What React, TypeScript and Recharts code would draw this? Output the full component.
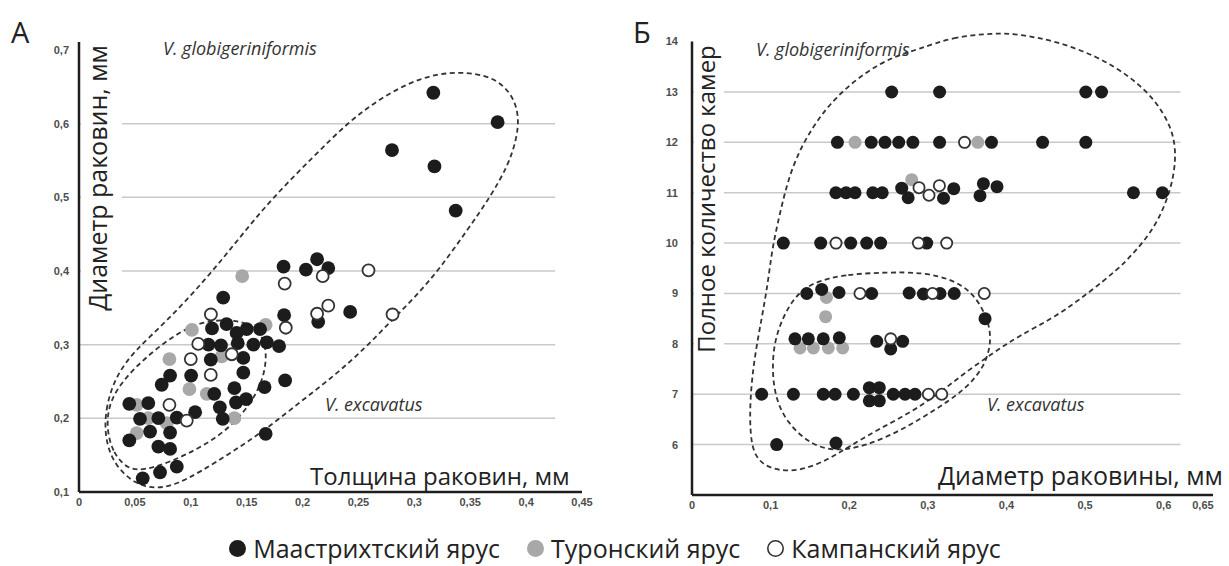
import React from 'react';
import { ScatterChart, Scatter, XAxis, YAxis, ReferenceLine } from 'recharts';

// ---------- Panel A: thickness (x) vs diameter (y) ----------
const xTicksA = [0, 0.05, 0.1, 0.15, 0.2, 0.25, 0.3, 0.35, 0.4, 0.45];
const yTicksA = [0.1, 0.2, 0.3, 0.4, 0.5, 0.6, 0.7];
const gridA = [0.2, 0.3, 0.4, 0.5, 0.6];

const maastrichtA = [
  { x: 0.317, y: 0.642 }, { x: 0.3745, y: 0.602 }, { x: 0.28, y: 0.564 }, { x: 0.318, y: 0.542 },
  { x: 0.337, y: 0.482 }, { x: 0.183, y: 0.406 }, { x: 0.203, y: 0.402 }, { x: 0.213, y: 0.416 },
  { x: 0.223, y: 0.404 }, { x: 0.1835, y: 0.34 }, { x: 0.214, y: 0.331 }, { x: 0.2426, y: 0.3445 },
  { x: 0.129, y: 0.364 }, { x: 0.119, y: 0.322 }, { x: 0.132, y: 0.328 }, { x: 0.141, y: 0.316 },
  { x: 0.15, y: 0.321 }, { x: 0.162, y: 0.321 }, { x: 0.1158, y: 0.3 }, { x: 0.127, y: 0.299 },
  { x: 0.142, y: 0.302 }, { x: 0.156, y: 0.3 }, { x: 0.168, y: 0.303 }, { x: 0.179, y: 0.298 },
  { x: 0.1179, y: 0.2796 }, { x: 0.147, y: 0.282 }, { x: 0.074, y: 0.2456 }, { x: 0.0815, y: 0.258 },
  { x: 0.1003, y: 0.258 }, { x: 0.147, y: 0.262 }, { x: 0.139, y: 0.241 }, { x: 0.166, y: 0.2425 },
  { x: 0.121, y: 0.2333 }, { x: 0.1405, y: 0.2215 }, { x: 0.1495, y: 0.226 }, { x: 0.1844, y: 0.2515 },
  { x: 0.045, y: 0.2197 }, { x: 0.062, y: 0.2207 }, { x: 0.1039, y: 0.2084 }, { x: 0.126, y: 0.215 },
  { x: 0.0875, y: 0.201 }, { x: 0.1286, y: 0.1993 }, { x: 0.0546, y: 0.1993 }, { x: 0.071, y: 0.2003 },
  { x: 0.0636, y: 0.182 }, { x: 0.0815, y: 0.1807 }, { x: 0.045, y: 0.17 }, { x: 0.071, y: 0.1616 },
  { x: 0.0815, y: 0.1585 }, { x: 0.167, y: 0.179 }, { x: 0.057, y: 0.1186 }, { x: 0.0725, y: 0.1268 },
  { x: 0.0875, y: 0.1344 },
];
const turonA = [
  { x: 0.146, y: 0.393 }, { x: 0.101, y: 0.32 }, { x: 0.167, y: 0.327 }, { x: 0.0809, y: 0.2805 },
  { x: 0.1277, y: 0.284 }, { x: 0.0988, y: 0.2397 }, { x: 0.1143, y: 0.2333 }, { x: 0.0516, y: 0.2184 },
  { x: 0.139, y: 0.2003 }, { x: 0.062, y: 0.2003 }, { x: 0.0785, y: 0.1935 }, { x: 0.0516, y: 0.18 },
];
const campanA = [
  { x: 0.218, y: 0.393 }, { x: 0.259, y: 0.401 }, { x: 0.184, y: 0.383 }, { x: 0.185, y: 0.323 },
  { x: 0.213, y: 0.342 }, { x: 0.223, y: 0.353 }, { x: 0.2805, y: 0.341 }, { x: 0.118, y: 0.341 },
  { x: 0.1067, y: 0.301 }, { x: 0.1367, y: 0.287 }, { x: 0.1, y: 0.2805 }, { x: 0.1179, y: 0.259 },
  { x: 0.0809, y: 0.2184 }, { x: 0.0964, y: 0.197 },
];
// dashed outlines (V. globigeriniformis outer, V. excavatus inner)
const outlineGlobA = [
  { x: 0.0233, y: 0.1706 }, { x: 0.0233, y: 0.2113 }, { x: 0.0322, y: 0.2561 }, { x: 0.0501, y: 0.2928 },
  { x: 0.077, y: 0.3294 }, { x: 0.1146, y: 0.3905 }, { x: 0.1441, y: 0.4461 }, { x: 0.1737, y: 0.5004 },
  { x: 0.2095, y: 0.5547 }, { x: 0.2399, y: 0.6009 }, { x: 0.2695, y: 0.6348 }, { x: 0.3053, y: 0.6633 },
  { x: 0.3384, y: 0.6715 }, { x: 0.3706, y: 0.6647 }, { x: 0.3885, y: 0.6389 }, { x: 0.3939, y: 0.6077 },
  { x: 0.3912, y: 0.5778 }, { x: 0.3841, y: 0.5439 }, { x: 0.3679, y: 0.5004 }, { x: 0.3474, y: 0.4556 },
  { x: 0.3232, y: 0.4041 }, { x: 0.3008, y: 0.3647 }, { x: 0.2784, y: 0.3308 }, { x: 0.256, y: 0.2955 },
  { x: 0.2292, y: 0.2588 }, { x: 0.1979, y: 0.2222 }, { x: 0.1665, y: 0.1842 }, { x: 0.137, y: 0.1543 },
  { x: 0.1083, y: 0.1271 }, { x: 0.0859, y: 0.1095 }, { x: 0.068, y: 0.1041 }, { x: 0.0501, y: 0.1109 },
  { x: 0.0322, y: 0.1353 },
];
const outlineExcA = [
  { x: 0.0439, y: 0.1299 }, { x: 0.0295, y: 0.1543 }, { x: 0.0242, y: 0.1909 }, { x: 0.0278, y: 0.2249 },
  { x: 0.0412, y: 0.2547 }, { x: 0.0591, y: 0.2819 }, { x: 0.0815, y: 0.309 }, { x: 0.1065, y: 0.3308 },
  { x: 0.1352, y: 0.3348 }, { x: 0.1576, y: 0.3267 }, { x: 0.1683, y: 0.2995 }, { x: 0.1665, y: 0.2588 },
  { x: 0.1549, y: 0.2222 }, { x: 0.1352, y: 0.1869 }, { x: 0.1083, y: 0.1597 }, { x: 0.0815, y: 0.1407 },
  { x: 0.0591, y: 0.1299 },
];

// ---------- Panel Б: diameter (x) vs number of chambers (y) ----------
const xTicksB = [0, 0.1, 0.2, 0.3, 0.4, 0.5, 0.6, 0.65];
const yTicksB = [6, 7, 8, 9, 10, 11, 12, 13, 14];
const gridB = [6, 7, 8, 9, 10, 11, 12, 13];

const maastrichtB = [
  { x: 0.254, y: 13 }, { x: 0.315, y: 13 }, { x: 0.501, y: 13 }, { x: 0.521, y: 13 },
  { x: 0.185, y: 12 }, { x: 0.228, y: 12 }, { x: 0.2455, y: 12 }, { x: 0.263, y: 12 }, { x: 0.281, y: 12 },
  { x: 0.315, y: 12 }, { x: 0.381, y: 12 }, { x: 0.446, y: 12 }, { x: 0.501, y: 12 },
  { x: 0.183, y: 11 }, { x: 0.196, y: 11 }, { x: 0.2074, y: 11 }, { x: 0.23, y: 11 }, { x: 0.242, y: 11 },
  { x: 0.2668, y: 11.09 }, { x: 0.275, y: 10.9 }, { x: 0.32, y: 10.89 }, { x: 0.333, y: 11.08 },
  { x: 0.3707, y: 11.18 }, { x: 0.3664, y: 10.94 }, { x: 0.388, y: 11.12 }, { x: 0.5616, y: 11 }, { x: 0.5984, y: 11 },
  { x: 0.1162, y: 10 }, { x: 0.1637, y: 10 }, { x: 0.2019, y: 10 }, { x: 0.2222, y: 10 }, { x: 0.24, y: 10 },
  { x: 0.2986, y: 10 },
  { x: 0.146, y: 9 }, { x: 0.165, y: 9.08 }, { x: 0.187, y: 9.02 }, { x: 0.2286, y: 9 }, { x: 0.2763, y: 9.01 },
  { x: 0.2943, y: 8.99 }, { x: 0.3155, y: 9 }, { x: 0.3336, y: 9 }, { x: 0.3728, y: 8.5 },
  { x: 0.131, y: 8.1 }, { x: 0.148, y: 8.1 }, { x: 0.167, y: 8.1 }, { x: 0.1874, y: 8.12 }, { x: 0.235, y: 8.05 },
  { x: 0.2528, y: 7.9 }, { x: 0.268, y: 8.05 },
  { x: 0.0886, y: 7 }, { x: 0.129, y: 7 }, { x: 0.167, y: 7 }, { x: 0.182, y: 7 }, { x: 0.2053, y: 7 },
  { x: 0.2256, y: 7.13 }, { x: 0.2383, y: 7.13 }, { x: 0.2256, y: 6.87 }, { x: 0.2383, y: 6.87 },
  { x: 0.256, y: 7 }, { x: 0.271, y: 7 }, { x: 0.2837, y: 7 },
  { x: 0.1077, y: 6 }, { x: 0.1832, y: 6.03 },
];
const turonB = [
  { x: 0.2074, y: 12 }, { x: 0.3636, y: 12 }, { x: 0.2795, y: 11.26 }, { x: 0.171, y: 8.92 },
  { x: 0.17, y: 8.54 }, { x: 0.1374, y: 7.92 }, { x: 0.1544, y: 7.92 }, { x: 0.1734, y: 7.92 }, { x: 0.1917, y: 7.92 },
];
const campanB = [
  { x: 0.3467, y: 12 }, { x: 0.2888, y: 11.1 }, { x: 0.3015, y: 10.95 }, { x: 0.3147, y: 11.14 },
  { x: 0.1832, y: 10 }, { x: 0.288, y: 10 }, { x: 0.324, y: 10 }, { x: 0.2137, y: 9 }, { x: 0.306, y: 9 },
  { x: 0.3718, y: 9 }, { x: 0.2528, y: 8.1 }, { x: 0.3007, y: 7 }, { x: 0.3177, y: 7 },
];
const outlineGlobB = [
  { x: 0.2888, y: 13.85 }, { x: 0.3308, y: 14.09 }, { x: 0.3842, y: 14.17 }, { x: 0.4148, y: 14.15 },
  { x: 0.4631, y: 14.01 }, { x: 0.5153, y: 13.71 }, { x: 0.5573, y: 13.31 }, { x: 0.5891, y: 12.85 },
  { x: 0.6094, y: 12.32 }, { x: 0.6158, y: 11.86 }, { x: 0.6132, y: 11.32 }, { x: 0.6018, y: 10.73 },
  { x: 0.584, y: 10.21 }, { x: 0.5623, y: 9.81 }, { x: 0.542, y: 9.48 }, { x: 0.5051, y: 9.02 },
  { x: 0.4631, y: 8.54 }, { x: 0.4148, y: 8.15 }, { x: 0.3842, y: 7.83 }, { x: 0.3473, y: 7.43 },
  { x: 0.3155, y: 7.03 }, { x: 0.2786, y: 6.64 }, { x: 0.2366, y: 6.3 }, { x: 0.1997, y: 5.96 },
  { x: 0.173, y: 5.7 }, { x: 0.1361, y: 5.46 }, { x: 0.0992, y: 5.5 }, { x: 0.0789, y: 5.76 },
  { x: 0.0738, y: 6.24 }, { x: 0.0738, y: 6.89 }, { x: 0.0789, y: 7.69 }, { x: 0.0891, y: 8.54 },
  { x: 0.0967, y: 9.22 }, { x: 0.1018, y: 9.87 }, { x: 0.1107, y: 10.52 }, { x: 0.126, y: 11.51 },
  { x: 0.1527, y: 12.31 }, { x: 0.1832, y: 12.91 }, { x: 0.2201, y: 13.39 }, { x: 0.257, y: 13.71 },
];
const outlineExcB = [
  { x: 0.2468, y: 9.42 }, { x: 0.1947, y: 9.38 }, { x: 0.1527, y: 9.22 }, { x: 0.131, y: 8.94 },
  { x: 0.1158, y: 8.54 }, { x: 0.1043, y: 8.03 }, { x: 0.1018, y: 7.43 }, { x: 0.1069, y: 6.89 },
  { x: 0.1209, y: 6.44 }, { x: 0.1476, y: 6.04 }, { x: 0.1781, y: 5.86 }, { x: 0.2201, y: 5.96 },
  { x: 0.2684, y: 6.3 }, { x: 0.3104, y: 6.7 }, { x: 0.3473, y: 7.09 }, { x: 0.3728, y: 7.55 },
  { x: 0.3817, y: 8.09 }, { x: 0.3753, y: 8.54 }, { x: 0.3575, y: 9.02 }, { x: 0.3308, y: 9.28 },
  { x: 0.2939, y: 9.42 },
];

const legendItems = ['Маастрихтский ярус', 'Туронский ярус', 'Кампанский ярус'];

// ---------- styles ----------
const BLACK = '#1c1c1c';
const GRAY = '#a8a8a8';
const GRID = '#c9c9c9';
const AXIS = '#1e1e1e';
const FONT = '"Open Sans", "Noto Sans", sans-serif';

const fmt = (v: number) => String(v).replace('.', ',');
const tickStyle = { fontSize: 11, fill: '#4d4d4d', fontWeight: 700, fontFamily: '"Liberation Sans", Arial, sans-serif' };
const dashLine = { stroke: '#333', strokeWidth: 1.8, strokeDasharray: '5 3.5' };

const Empty = () => <g />;
const makeDot = (kind: string, r: number) => (p: any) => {
  if (p.cx == null || p.cy == null) return <g />;
  if (kind === 'open') return <circle cx={p.cx} cy={p.cy} r={r - 0.9} fill="#fff" stroke="#333" strokeWidth={1.8} />;
  return <circle cx={p.cx} cy={p.cy} r={r} fill={kind === 'gray' ? GRAY : BLACK} />;
};

function PanelA() {
  return (
    <ScatterChart width={600} height={520} margin={{ top: 42, right: 18, bottom: 8, left: 0 }}>
      <XAxis type="number" dataKey="x" domain={[0, 0.45]} ticks={xTicksA} allowDataOverflow
        tickFormatter={fmt} tick={tickStyle} tickLine={false} tickSize={0} tickMargin={6} height={20}
        axisLine={{ stroke: AXIS, strokeWidth: 2.5 }} interval={0} />
      <YAxis type="number" dataKey="y" domain={[0.1, 0.7109]} ticks={yTicksA} allowDataOverflow
        tickFormatter={fmt} tick={tickStyle} tickLine={false} tickSize={0} tickMargin={10} width={79}
        axisLine={{ stroke: AXIS, strokeWidth: 2.5 }} interval={0} />
      {gridA.map((g) => (
        <ReferenceLine key={g} segment={[{ x: 0, y: g }, { x: 0.426, y: g }]} stroke={GRID} strokeWidth={1.5} />
      ))}
      <Scatter data={outlineGlobA} shape={Empty} line={dashLine} lineJointType="basisClosed" isAnimationActive={false} />
      <Scatter data={outlineExcA} shape={Empty} line={dashLine} lineJointType="basisClosed" isAnimationActive={false} />
      <Scatter data={turonA} shape={makeDot('gray', 6.9)} isAnimationActive={false} />
      <Scatter data={maastrichtA} shape={makeDot('black', 6.9)} isAnimationActive={false} />
      <Scatter data={campanA} shape={makeDot('open', 6.9)} isAnimationActive={false} />
    </ScatterChart>
  );
}

function PanelB() {
  return (
    <ScatterChart width={629} height={520} margin={{ top: 29, right: 16, bottom: 5, left: 0 }}>
      <XAxis type="number" dataKey="x" domain={[0, 0.6628]} ticks={xTicksB} allowDataOverflow
        tickFormatter={fmt} tick={tickStyle} tickLine={false} tickSize={0} tickMargin={6} height={20}
        axisLine={{ stroke: AXIS, strokeWidth: 2.5 }} interval={0} />
      <YAxis type="number" dataKey="y" domain={[5, 14.25]} ticks={yTicksB} allowDataOverflow
        tickFormatter={fmt} tick={tickStyle} tickLine={false} tickSize={0} tickMargin={14} width={92}
        axisLine={false} interval={0} />
      {gridB.map((g) => (
        <ReferenceLine key={g} segment={[{ x: 0, y: g }, { x: 0.6215, y: g }]} stroke={GRID} strokeWidth={1.5} />
      ))}
      <ReferenceLine segment={[{ x: 0, y: 5 }, { x: 0, y: 14 }]} stroke={AXIS} strokeWidth={2.5} ifOverflow="visible" />
      <Scatter data={outlineGlobB} shape={Empty} line={dashLine} lineJointType="basisClosed" isAnimationActive={false} />
      <Scatter data={outlineExcB} shape={Empty} line={dashLine} lineJointType="basisClosed" isAnimationActive={false} />
      <Scatter data={turonB} shape={makeDot('gray', 6.5)} isAnimationActive={false} />
      <Scatter data={maastrichtB} shape={makeDot('black', 6.5)} isAnimationActive={false} />
      <Scatter data={campanB} shape={makeDot('open', 6.5)} isAnimationActive={false} />
    </ScatterChart>
  );
}

export default function App() {
  const legendMarks = [
    <svg key="m" width={19} height={19}><circle cx={9.5} cy={9.5} r={8.5} fill={BLACK} /></svg>,
    <svg key="t" width={19} height={19}><circle cx={9.5} cy={9.5} r={8.5} fill={GRAY} /></svg>,
    <svg key="c" width={19} height={19}><circle cx={9.5} cy={9.5} r={7.7} fill="#fff" stroke="#333" strokeWidth={1.6} /></svg>,
  ];
  return (
    <div style={{ position: 'relative', width: 1229, height: 566, background: '#fff', overflow: 'hidden' }}>
      <style>{'body{margin:0;background:#fff}'}</style>
      <div style={{ position: 'absolute', left: 0, top: 0 }}><PanelA /></div>
      <div style={{ position: 'absolute', left: 600, top: 0 }}><PanelB /></div>
      <svg width={1229} height={566} style={{ position: 'absolute', left: 0, top: 0, pointerEvents: 'none' }}
        fontFamily={FONT}>
        <rect x={81} y={45} width={41} height={268} fill="#fff" />
        <rect x={694} y={38} width={30} height={322} fill="#fff" />
        <text x={11} y={43} fontSize={29} fill="#222">А</text>
        <text x={633} y={43} fontSize={29} fill="#222">Б</text>
        <text transform="translate(107,178) rotate(-90)" textAnchor="middle" fontSize={25} fill="#222">Диаметр раковин, мм</text>
        <text transform="translate(715,199) rotate(-90)" textAnchor="middle" fontSize={24} fill="#222">Полное количество камер</text>
        <text x={310} y={485} fontSize={24} fill="#222">Толщина раковин, мм</text>
        <text x={938} y={485} fontSize={25} fill="#222">Диаметр раковины, мм</text>
        <text x={163} y={55} fontSize={18} fontStyle="italic" fill="#333">V. globigeriniformis</text>
        <text x={756} y={56} fontSize={18} fontStyle="italic" fill="#333">V. globigeriniformis</text>
        <text x={325} y={411} fontSize={18} fontStyle="italic" fill="#333">V. excavatus</text>
        <text x={987} y={411} fontSize={18} fontStyle="italic" fill="#333">V. excavatus</text>
      </svg>
      <div style={{ position: 'absolute', left: 0, top: 534, width: 1229, display: 'flex', justifyContent: 'center',
        alignItems: 'center', gap: 26, fontFamily: FONT, fontSize: 25, color: '#222', lineHeight: '29px' }}>
        {legendItems.map((name, i) => (
          <div key={name} style={{ display: 'flex', alignItems: 'center', gap: 6 }}>
            {legendMarks[i]}
            <span>{name}</span>
          </div>
        ))}
      </div>
    </div>
  );
}
